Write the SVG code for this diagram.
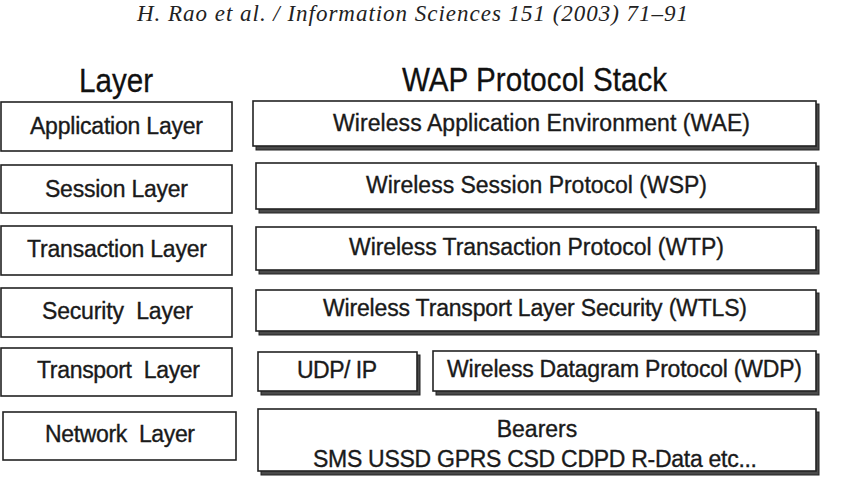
<svg xmlns="http://www.w3.org/2000/svg" width="843" height="483" viewBox="0 0 843 483">
<style>
  .lbox { fill: #fff; stroke: #222; stroke-width: 1.6; }
  .rbox { fill: #fff; stroke: #222; stroke-width: 1.6; }
  .shadow { fill: #4a4a4a; stroke: #222; stroke-width: 1; }
  .t { font-family: "Liberation Sans", Arial, sans-serif; font-size: 23px; fill: #1a1a1a; stroke: #1a1a1a; stroke-width: 0.35; }
  .title { font-family: "Liberation Sans", Arial, sans-serif; font-size: 34px; fill: #111; stroke: #111; stroke-width: 0.3; }
  .hdr { font-family: "Liberation Serif", "Times New Roman", serif; font-style: italic; font-size: 23px; fill: #222; }
</style>
<rect width="843" height="483" fill="#fff"/>
<text class="hdr" x="137" y="21" textLength="551">H. Rao et al. / Information Sciences 151 (2003) 71–91</text>
<text class="title" x="79" y="92" textLength="74" lengthAdjust="spacingAndGlyphs">Layer</text>
<text class="title" x="402" y="91" textLength="265" lengthAdjust="spacingAndGlyphs">WAP Protocol Stack</text>
<g id="connectors"></g>
<g id="app-layer"><rect class="lbox" x="1" y="102" width="231" height="49"/><text class="t" x="30" y="134" textLength="173">Application Layer</text></g>
<g id="session-layer"><rect class="lbox" x="1" y="165" width="231" height="48"/><text class="t" x="45" y="197" textLength="143">Session Layer</text></g>
<g id="transaction-layer"><rect class="lbox" x="1" y="226" width="231" height="49"/><text class="t" x="27" y="257" textLength="180">Transaction Layer</text></g>
<g id="security-layer"><rect class="lbox" x="1" y="288" width="231" height="49"/><text class="t" x="42" y="319" textLength="151" xml:space="preserve">Security  Layer</text></g>
<g id="transport-layer"><rect class="lbox" x="1" y="348" width="231" height="48"/><text class="t" x="37" y="378" textLength="163" xml:space="preserve">Transport  Layer</text></g>
<g id="network-layer"><rect class="lbox" x="3" y="412" width="233" height="48"/><text class="t" x="45" y="442" textLength="150" xml:space="preserve">Network  Layer</text></g>
<g id="wae"><rect class="shadow" x="256" y="104" width="563" height="46"/><rect class="rbox" x="253" y="101" width="563" height="45"/><text class="t" x="333" y="131" textLength="417">Wireless Application Environment (WAE)</text></g>
<g id="wsp"><rect class="shadow" x="259" y="166" width="560" height="47"/><rect class="rbox" x="256" y="163" width="560" height="46"/><text class="t" x="366" y="193" textLength="341">Wireless Session Protocol (WSP)</text></g>
<g id="wtp"><rect class="shadow" x="259" y="230" width="560" height="44"/><rect class="rbox" x="256" y="227" width="560" height="43"/><text class="t" x="349" y="255" textLength="375">Wireless Transaction Protocol (WTP)</text></g>
<g id="wtls"><rect class="shadow" x="259" y="293" width="560" height="42"/><rect class="rbox" x="256" y="290" width="560" height="41"/><text class="t" x="323" y="316" textLength="424">Wireless Transport Layer Security (WTLS)</text></g>
<g id="udpip"><rect class="shadow" x="261" y="355" width="159" height="40"/><rect class="rbox" x="258" y="352" width="159" height="39"/><text class="t" x="297" y="378" textLength="80">UDP/ IP</text></g>
<g id="wdp"><rect class="shadow" x="436" y="354" width="383" height="41"/><rect class="rbox" x="433" y="351" width="383" height="40"/><text class="t" x="447" y="377" textLength="355">Wireless Datagram Protocol (WDP)</text></g>
<g id="bearers"><rect class="shadow" x="261" y="412" width="558" height="63"/><rect class="rbox" x="258" y="409" width="558" height="62"/><text class="t" x="537" y="437" text-anchor="middle">Bearers</text><text class="t" x="313" y="467" textLength="444">SMS USSD GPRS CSD CDPD R-Data etc...</text></g>
</svg>
